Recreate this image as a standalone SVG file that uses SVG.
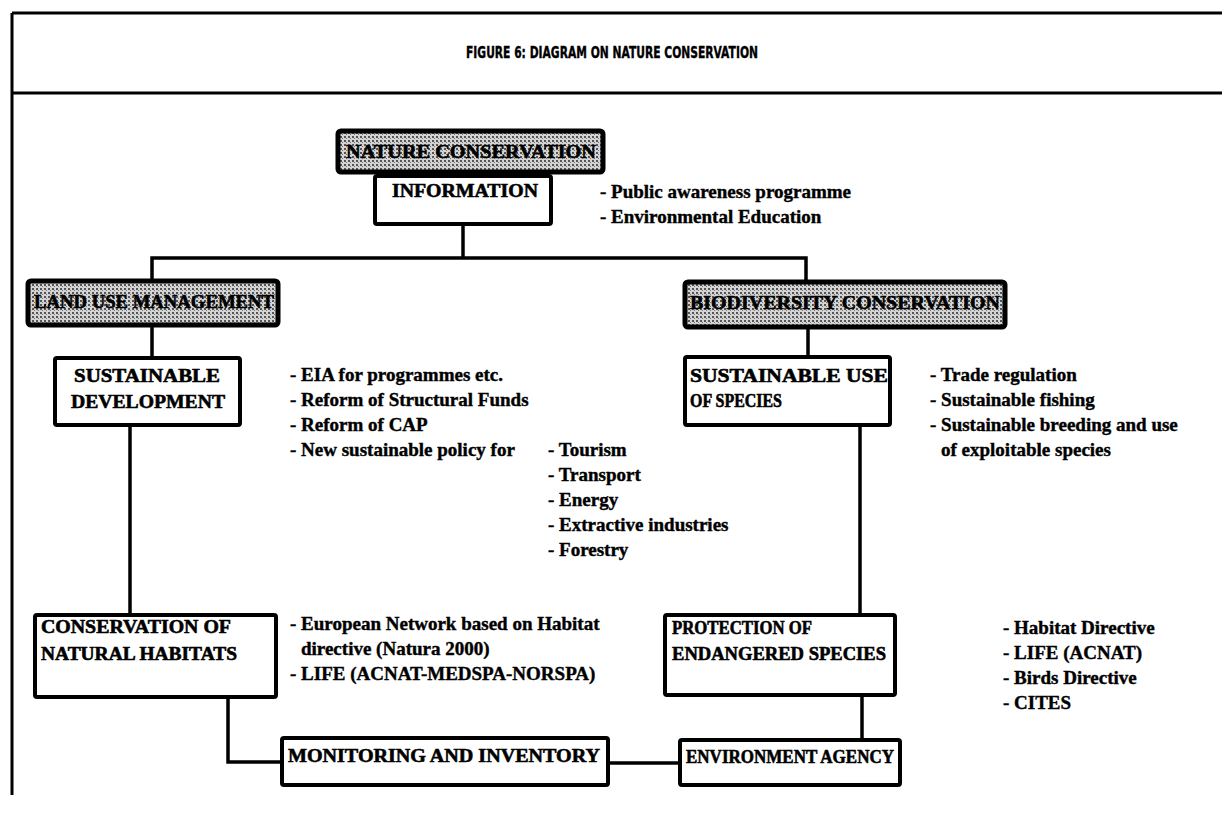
<svg xmlns="http://www.w3.org/2000/svg" width="1222" height="823" viewBox="0 0 1222 823">
<defs>
<pattern id="stip" width="4" height="4" patternUnits="userSpaceOnUse">
<rect width="4" height="4" fill="#d4d4d4"/>
<rect x="0" y="0" width="2" height="2" fill="#555555"/>
<rect x="2" y="2" width="1" height="1" fill="#777777"/>
</pattern>
<style>
.box{fill:#ffffff;stroke:#000;stroke-width:4}
.shade{fill:url(#stip);stroke:#000;stroke-width:5}
.lbl{font-family:"Liberation Serif","Times New Roman",serif;font-weight:bold;font-size:19px;fill:#000;stroke:#000;stroke-width:0.6}
.bul{font-family:"Liberation Serif","Times New Roman",serif;font-weight:bold;font-size:19px;fill:#000;stroke:#000;stroke-width:0.4}
.ttl{font-family:"DejaVu Sans","Liberation Sans",Arial,sans-serif;font-weight:bold;font-size:15px;fill:#000;stroke:#000;stroke-width:0.4}
.ln{fill:none;stroke:#000;stroke-width:3.5}
.frame{fill:none;stroke:#000;stroke-width:3}
</style>
</defs>
<rect width="1222" height="823" fill="#ffffff"/>
<g id="frame">
<line class="frame" x1="12" y1="13" x2="1222" y2="13"/>
<line class="frame" x1="12" y1="93" x2="1222" y2="93"/>
<line class="frame" x1="12" y1="13" x2="12" y2="795"/>
<text class="ttl" x="612" y="58" text-anchor="middle" textLength="292" lengthAdjust="spacingAndGlyphs">FIGURE 6: DIAGRAM ON NATURE CONSERVATION</text>
</g>
<g id="connectors">
<path class="ln" d="M461 172 V176"/>
<path class="ln" d="M463 224 V258"/>
<path class="ln" d="M152 281 V258 H806 V282"/>
<path class="ln" d="M152 325 V358"/>
<path class="ln" d="M808 327 V357"/>
<path class="ln" d="M130 425 V615"/>
<path class="ln" d="M860 425 V615"/>
<path class="ln" d="M862 695 V740"/>
<path class="ln" d="M228 697 V762 H282"/>
<path class="ln" d="M608 763 H680"/>
</g>
<g id="nature-conservation">
<rect class="shade" x="338" y="131" width="265" height="41" rx="3"/>
<text class="lbl" x="346" y="158" textLength="250" lengthAdjust="spacingAndGlyphs">NATURE CONSERVATION</text>
</g>
<g id="information">
<rect class="box" x="375" y="176" width="176" height="48" rx="2"/>
<text class="lbl" x="392" y="197" textLength="146" lengthAdjust="spacingAndGlyphs">INFORMATION</text>
</g>
<g id="information-notes">
<text class="bul" x="600" y="198">- Public awareness programme</text>
<text class="bul" x="600" y="223">- Environmental Education</text>
</g>
<g id="land-use-management">
<rect class="shade" x="28" y="281" width="250" height="44" rx="3"/>
<text class="lbl" x="34" y="308" textLength="240" lengthAdjust="spacingAndGlyphs">LAND USE MANAGEMENT</text>
</g>
<g id="biodiversity-conservation">
<rect class="shade" x="685" y="282" width="320" height="45" rx="3"/>
<text class="lbl" x="690" y="309" textLength="310" lengthAdjust="spacingAndGlyphs">BIODIVERSITY CONSERVATION</text>
</g>
<g id="sustainable-development">
<rect class="box" x="55" y="358" width="185" height="67" rx="2"/>
<text class="lbl" x="147" y="382" text-anchor="middle" textLength="146" lengthAdjust="spacingAndGlyphs">SUSTAINABLE</text>
<text class="lbl" x="148" y="408" text-anchor="middle" textLength="154" lengthAdjust="spacingAndGlyphs">DEVELOPMENT</text>
</g>
<g id="sustainable-development-notes">
<text class="bul" x="290" y="381">- EIA for programmes etc.</text>
<text class="bul" x="290" y="406">- Reform of Structural Funds</text>
<text class="bul" x="290" y="431">- Reform of CAP</text>
<text class="bul" x="290" y="456">- New sustainable policy for</text>
<text class="bul" x="548" y="456">- Tourism</text>
<text class="bul" x="548" y="481">- Transport</text>
<text class="bul" x="548" y="506">- Energy</text>
<text class="bul" x="548" y="531">- Extractive industries</text>
<text class="bul" x="548" y="556">- Forestry</text>
</g>
<g id="sustainable-use-of-species">
<rect class="box" x="685" y="357" width="205" height="68" rx="2"/>
<text class="lbl" x="690" y="382" textLength="198" lengthAdjust="spacingAndGlyphs">SUSTAINABLE USE</text>
<text class="lbl" x="690" y="407" textLength="92" lengthAdjust="spacingAndGlyphs">OF SPECIES</text>
</g>
<g id="sustainable-use-notes">
<text class="bul" x="930" y="381">- Trade regulation</text>
<text class="bul" x="930" y="406">- Sustainable fishing</text>
<text class="bul" x="930" y="431">- Sustainable breeding and use</text>
<text class="bul" x="941" y="456">of exploitable species</text>
</g>
<g id="conservation-of-natural-habitats">
<rect class="box" x="35" y="615" width="241" height="82" rx="2"/>
<text class="lbl" x="41" y="633" textLength="190" lengthAdjust="spacingAndGlyphs">CONSERVATION OF</text>
<text class="lbl" x="41" y="660" textLength="196" lengthAdjust="spacingAndGlyphs">NATURAL HABITATS</text>
</g>
<g id="habitats-notes">
<text class="bul" x="290" y="630">- European Network  based on Habitat</text>
<text class="bul" x="301" y="655">directive (Natura 2000)</text>
<text class="bul" x="290" y="680">- LIFE (ACNAT-MEDSPA-NORSPA)</text>
</g>
<g id="protection-of-endangered-species">
<rect class="box" x="665" y="615" width="230" height="80" rx="2"/>
<text class="lbl" x="672" y="634" textLength="140" lengthAdjust="spacingAndGlyphs">PROTECTION OF</text>
<text class="lbl" x="672" y="660" textLength="214" lengthAdjust="spacingAndGlyphs">ENDANGERED SPECIES</text>
</g>
<g id="protection-notes">
<text class="bul" x="1003" y="634">- Habitat Directive</text>
<text class="bul" x="1003" y="659">- LIFE (ACNAT)</text>
<text class="bul" x="1003" y="684">- Birds Directive</text>
<text class="bul" x="1003" y="709">- CITES</text>
</g>
<g id="monitoring-and-inventory">
<rect class="box" x="282" y="738" width="326" height="47" rx="2"/>
<text class="lbl" x="288" y="762" textLength="312" lengthAdjust="spacingAndGlyphs">MONITORING AND INVENTORY</text>
</g>
<g id="environment-agency">
<rect class="box" x="680" y="740" width="220" height="45" rx="2"/>
<text class="lbl" x="686" y="763" textLength="208" lengthAdjust="spacingAndGlyphs">ENVIRONMENT AGENCY</text>
</g>
</svg>
